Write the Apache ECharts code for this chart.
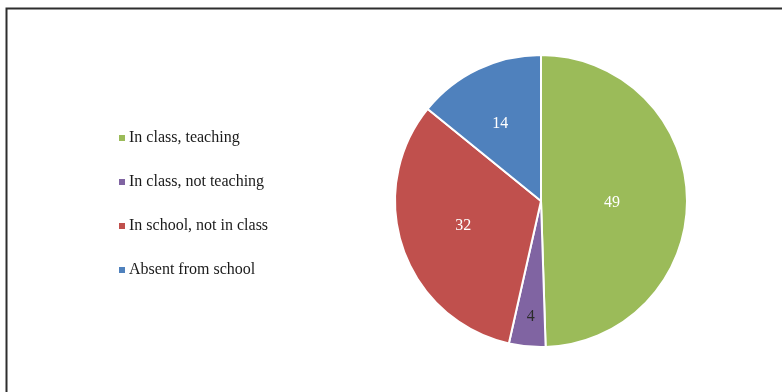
<!DOCTYPE html>
<html>
<head>
<meta charset="utf-8">
<script src="https://cdn.jsdelivr.net/npm/echarts@6/dist/echarts.min.js"></script>
<style>
  html, body { margin: 0; padding: 0; background: #fff; }
  #chart { width: 782px; height: 392px; }
</style>
</head>
<body>
<div id="chart"></div>
<script>
// Time use of teachers during the school day
const categories = ['In class, teaching', 'In class, not teaching', 'In school, not in class', 'Absent from school'];
const values = [49, 4, 32, 14];
const colors = ['#9BBB59', '#8064A2', '#C0504D', '#4F81BD'];
const labelColors = ['#ffffff', '#2b2b2b', '#ffffff', '#ffffff'];
const labelOffsets = [[-5, 3], [-3, 40], [-6, 0], [-8, -9]];

const serif = '"Liberation Serif", "DejaVu Serif", serif';

const chart = echarts.init(document.getElementById('chart'), null, { renderer: 'canvas' });

chart.setOption({
  animation: false,
  backgroundColor: '#ffffff',
  graphic: [{
    type: 'rect',
    shape: { x: 6.5, y: 8.5, width: 820, height: 420 },
    style: { fill: 'none', stroke: '#2e2e2e', lineWidth: 2 },
    silent: true
  }],
  legend: {
    orient: 'vertical',
    left: 112,
    top: 125,
    itemWidth: 8,
    itemHeight: 8,
    itemGap: 28,
    icon: 'rect',
    data: categories,
    textStyle: { fontFamily: serif, fontSize: 16, color: '#1a1a1a', padding: [0, 0, 0, -2] }
  },
  series: [{
    type: 'pie',
    center: [541, 201],
    radius: [0, 146],
    startAngle: 90,
    clockwise: true,
    avoidLabelOverlap: false,
    itemStyle: { borderColor: '#ffffff', borderWidth: 2 },
    label: {
      show: true,
      position: 'inside',
      formatter: '{c}',
      fontFamily: serif,
      fontSize: 16
    },
    labelLine: { show: false },
    emphasis: { disabled: true },
    data: categories.map((name, i) => ({
      name,
      value: values[i],
      itemStyle: { color: colors[i] },
      label: { color: labelColors[i], offset: labelOffsets[i] }
    }))
  }]
});
</script>
</body>
</html>
